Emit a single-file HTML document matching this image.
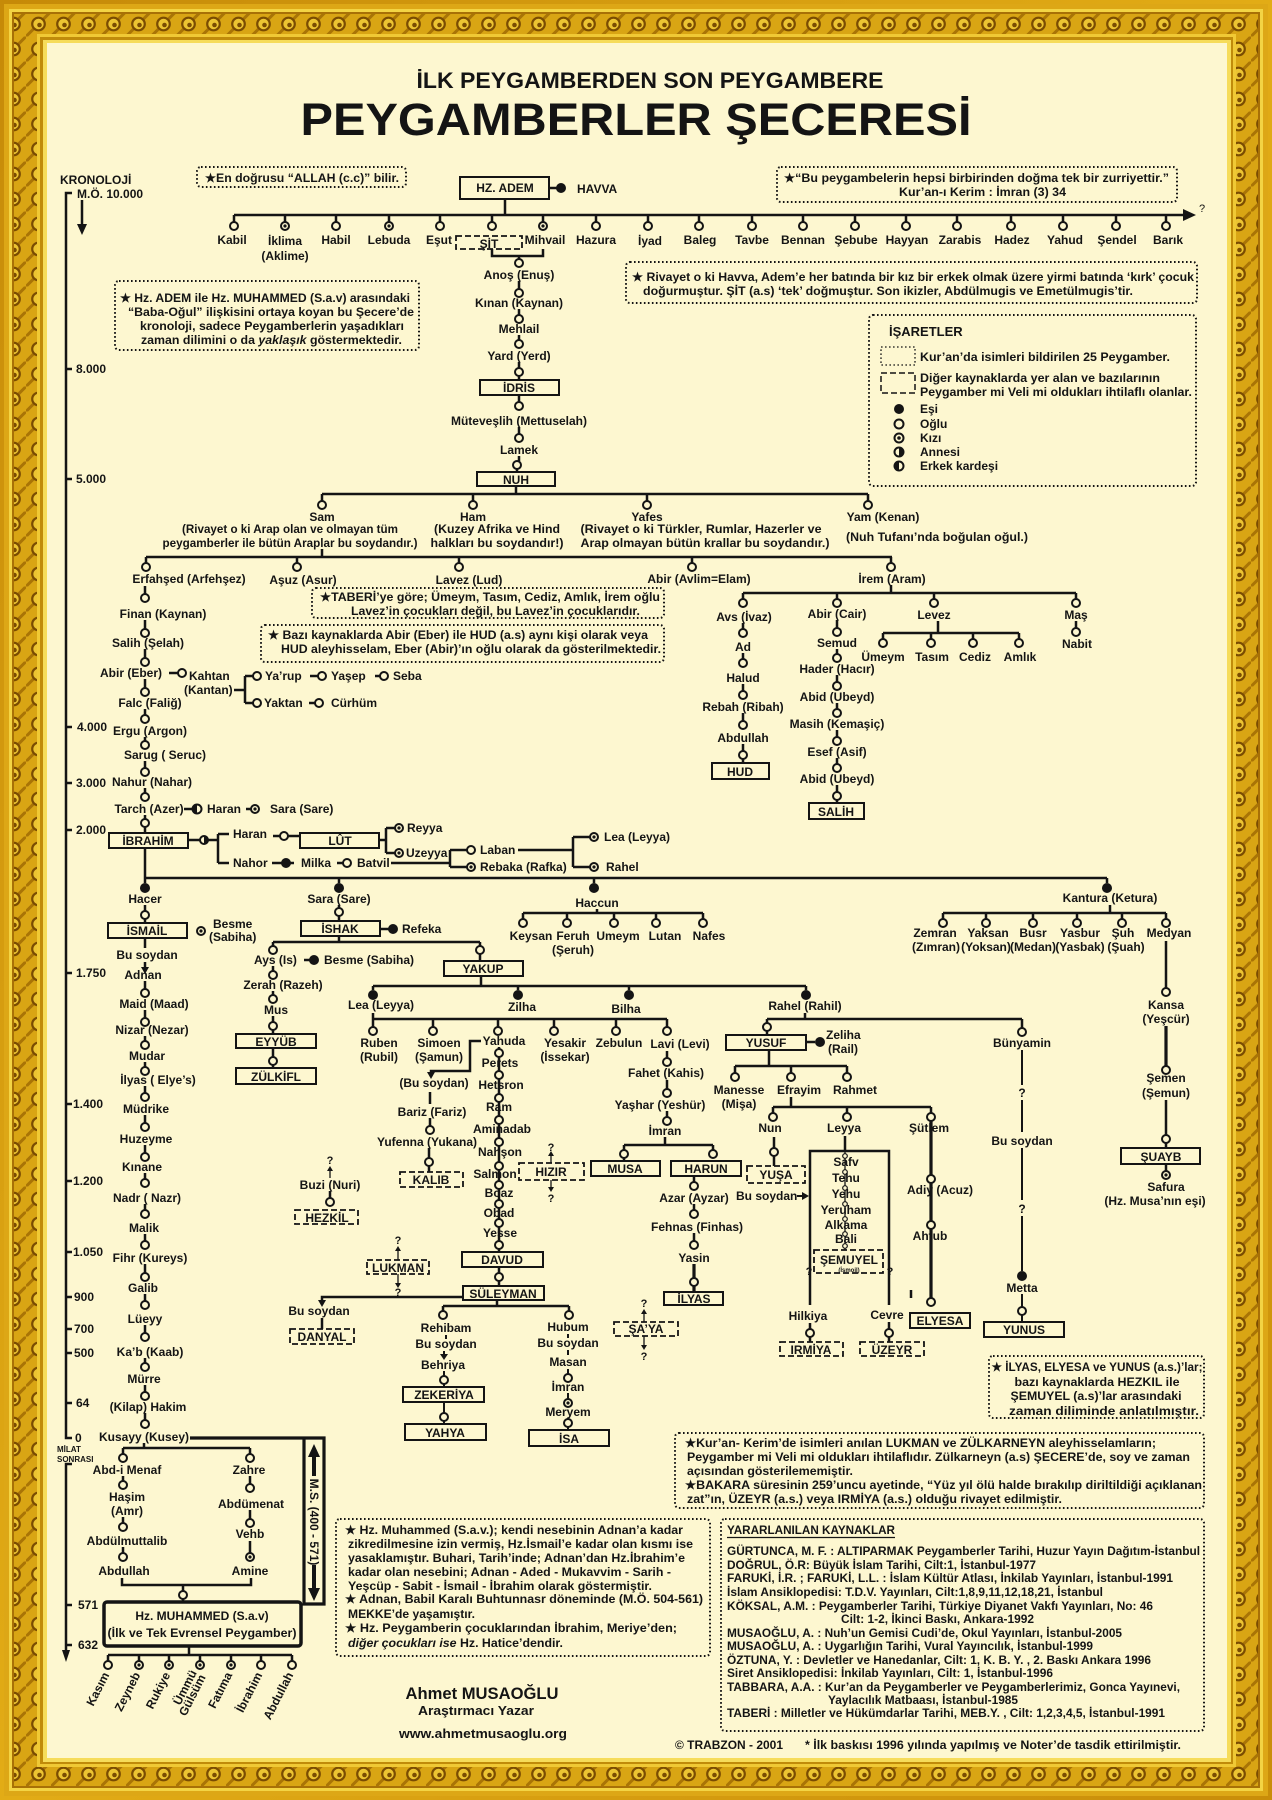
<!DOCTYPE html>
<html><head><meta charset="utf-8">
<style>
html,body{margin:0;padding:0;background:#fdf7d0}
svg{display:block}
text{font-family:"Liberation Sans",Arial,sans-serif;font-weight:bold;font-size:12px;fill:#141414}
.m{text-anchor:middle}
.e{text-anchor:end}
.s{font-size:11px}
.xs{font-size:8px}
.l{stroke:#141414;stroke-width:2.5;fill:none}
.lt{stroke:#141414;stroke-width:3.2;fill:none}
.th{stroke:#141414;stroke-width:1.3;fill:none}
.o{fill:#fdf7d0;stroke:#141414;stroke-width:2}
.f{fill:#141414}
.b{fill:#fdf7d0;stroke:#141414;stroke-width:2}
.d{fill:#fdf7d0;stroke:#141414;stroke-width:1.8;stroke-dasharray:6 3}
.n{fill:none;stroke:#141414;stroke-width:2;stroke-dasharray:1.6 2.4}
</style></head>
<body>
<svg width="1272" height="1800" viewBox="0 0 1272 1800" xmlns="http://www.w3.org/2000/svg">
<defs>
<linearGradient id="gO" x1="0" y1="0" x2="1" y2="1">
<stop offset="0" stop-color="#c68a08"/><stop offset="0.5" stop-color="#e2ac16"/><stop offset="1" stop-color="#c98d09"/>
</linearGradient>
<pattern id="orn" width="25" height="25" patternUnits="userSpaceOnUse" x="1" y="11.5">
<rect width="25" height="25" fill="#d9a514"/>
<path d="M-2 27 L27 -2" stroke="#a97406" stroke-width="3"/>
<circle cx="12.5" cy="12.5" r="6.3" fill="#ecc432" stroke="#7a4c02" stroke-width="2.2"/>
<circle cx="13.5" cy="13.5" r="2.3" fill="#7a4c02"/>
</pattern>
</defs>

<!-- FRAME -->
<rect x="0" y="0" width="1272" height="1800" fill="url(#gO)"/>
<rect x="4" y="4" width="1264" height="1792" fill="#dda716"/>
<rect x="9" y="9" width="1254" height="1782" fill="#f3d444"/>
<rect x="12" y="12" width="1248" height="1776" fill="#a87006"/>
<rect x="14" y="14" width="1244" height="1772" fill="url(#orn)"/>
<rect x="37" y="34" width="1199" height="1733" fill="#f0c935"/>
<rect x="40" y="37" width="1193" height="1727" fill="#c08b0a"/>
<rect x="43" y="40" width="1188" height="1722" fill="#f6dc5a"/>
<rect x="47" y="43" width="1180" height="1715" fill="#fdf7d0"/>

<!-- TITLE -->
<text x="650" y="88" class="m" style="font-size:22px" textLength="467" lengthAdjust="spacingAndGlyphs">İLK PEYGAMBERDEN SON PEYGAMBERE</text>
<text x="636" y="135" class="m" style="font-size:45px" textLength="671" lengthAdjust="spacingAndGlyphs">PEYGAMBERLER ŞECERESİ</text>

<!-- CHRONOLOGY -->
<text x="60" y="184">KRONOLOJİ</text>
<text x="77" y="198">M.Ö. 10.000</text>
<path class="l" d="M72 193H66V1438H72"/>
<path class="l" d="M82 200V226"/>
<polygon class="f" points="77,224 82,235 87,224"/>
<path class="l" d="M66 369H72 M66 479H72 M66 727H72 M66 783H72 M66 830H72 M66 973H72 M66 1104H72 M66 1181H72 M66 1252H72 M66 1297H72 M66 1329H72 M66 1353H72 M66 1403H72"/>
<text x="76" y="373">8.000</text>
<text x="76" y="483">5.000</text>
<text x="77" y="731">4.000</text>
<text x="76" y="787">3.000</text>
<text x="76" y="834">2.000</text>
<text x="76" y="977">1.750</text>
<text x="73" y="1108">1.400</text>
<text x="73" y="1185">1.200</text>
<text x="73" y="1256">1.050</text>
<text x="74" y="1301">900</text>
<text x="74" y="1333">700</text>
<text x="74" y="1357">500</text>
<text x="76" y="1407">64</text>
<text x="75" y="1442">0</text>
<text x="57" y="1452" class="xs">MİLAT</text>
<text x="57" y="1462" class="xs">SONRASI</text>
<path class="l" d="M72 1464H66V1652"/>
<polygon class="f" points="62,1650 66,1662 70,1650"/>
<path class="l" d="M66 1605H72 M66 1645H72"/>
<text x="78" y="1609">571</text>
<text x="78" y="1649">632</text>

<!-- TOP NOTES -->
<rect class="n" x="197" y="167" width="209" height="20" rx="4"/>
<text x="205" y="182" textLength="194" lengthAdjust="spacingAndGlyphs">★En doğrusu “ALLAH (c.c)” bilir.</text>

<rect class="n" x="777" y="167" width="400" height="35" rx="4"/>
<text x="784" y="182" textLength="385" lengthAdjust="spacingAndGlyphs">★“Bu peygambelerin hepsi birbirinden doğma tek bir zurriyettir.”</text>
<text x="899" y="196" textLength="167" lengthAdjust="spacingAndGlyphs">Kur’an-ı Kerim : İmran (3) 34</text>

<rect class="n" x="626" y="262" width="571" height="41" rx="4"/>
<text x="632" y="281" textLength="562" lengthAdjust="spacingAndGlyphs">★ Rivayet o ki Havva, Adem’e her batında bir kız bir erkek olmak üzere yirmi batında ‘kırk’ çocuk</text>
<text x="643" y="295" textLength="490" lengthAdjust="spacingAndGlyphs">doğurmuştur. ŞİT (a.s) ‘tek’ doğmuştur. Son ikizler, Abdülmugis ve Emetülmugis’tir.</text>

<rect class="n" x="115" y="281" width="304" height="69" rx="4"/>
<text x="120" y="302" textLength="290" lengthAdjust="spacingAndGlyphs">★ Hz. ADEM ile Hz. MUHAMMED (S.a.v) arasındaki</text>
<text x="128" y="316" textLength="286" lengthAdjust="spacingAndGlyphs">“Baba-Oğul” ilişkisini ortaya koyan bu Şecere’de</text>
<text x="140" y="330" textLength="264" lengthAdjust="spacingAndGlyphs">kronoloji, sadece Peygamberlerin yaşadıkları</text>
<text x="141" y="344" textLength="261" lengthAdjust="spacingAndGlyphs">zaman dilimini o da <tspan font-style="italic">yaklaşık</tspan> göstermektedir.</text>

<!-- LEGEND -->
<rect class="n" x="869" y="315" width="327" height="171" rx="4"/>
<text x="889" y="336" style="font-size:13px">İŞARETLER</text>
<rect class="n" x="881" y="347" width="34" height="18" style="stroke-width:1.3"/>
<text x="920" y="361" textLength="250" lengthAdjust="spacingAndGlyphs">Kur’an’da isimleri bildirilen 25 Peygamber.</text>
<rect class="d" x="881" y="373" width="34" height="20" style="stroke-width:1.5"/>
<text x="920" y="382" textLength="240" lengthAdjust="spacingAndGlyphs">Diğer kaynaklarda yer alan ve bazılarının</text>
<text x="920" y="396" textLength="272" lengthAdjust="spacingAndGlyphs">Peygamber mi Veli mi oldukları ihtilaflı olanlar.</text>
<circle class="f" cx="899" cy="409" r="5"/>
<circle class="o" cx="899" cy="424" r="4.5"/>
<circle class="o" cx="899" cy="438" r="4.5"/><circle class="f" cx="899" cy="438" r="1.8"/>
<circle class="o" cx="899" cy="452" r="4.5"/><path class="f" d="M899 447.5A4.5 4.5 0 0 1 899 456.5Z"/>
<circle class="o" cx="899" cy="466" r="4.5"/><path class="f" d="M899 461.5A4.5 4.5 0 0 0 899 470.5Z"/>
<text x="920" y="413">Eşi</text>
<text x="920" y="428">Oğlu</text>
<text x="920" y="442">Kızı</text>
<text x="920" y="456">Annesi</text>
<text x="920" y="470">Erkek kardeşi</text>

<!-- ADEM -->
<rect class="b" x="460" y="177" width="89" height="22"/>
<text x="505" y="192" class="m">HZ. ADEM</text>
<path class="l" d="M549 188H557"/>
<circle class="f" cx="561" cy="188" r="5"/>
<text x="577" y="193">HAVVA</text>
<path class="l" d="M505 199V215 M234 215H1185"/>
<polygon class="f" points="1183,209 1196,215 1183,221"/>
<text x="1199" y="212" class="s" style="font-weight:normal">?</text>
<path class="l" d="M234 215V222 M285 215V222 M336 215V222 M389 215V222 M440 215V222 M492 215V222 M543 215V222 M596 215V222 M648 215V222 M699 215V222 M752 215V222 M803 215V222 M855 215V222 M906 215V222 M957 215V222 M1011 215V222 M1063 215V222 M1116 215V222 M1166 215V222"/>
<g>
<circle class="o" cx="234" cy="226" r="4"/>
<circle class="o" cx="285" cy="226" r="4"/><circle class="f" cx="285" cy="226" r="1.6"/>
<circle class="o" cx="336" cy="226" r="4"/>
<circle class="o" cx="389" cy="226" r="4"/><circle class="f" cx="389" cy="226" r="1.6"/>
<circle class="o" cx="440" cy="226" r="4"/>
<circle class="o" cx="492" cy="226" r="4"/>
<circle class="o" cx="543" cy="226" r="4"/><circle class="f" cx="543" cy="226" r="1.6"/>
<circle class="o" cx="596" cy="226" r="4"/>
<circle class="o" cx="648" cy="226" r="4"/>
<circle class="o" cx="699" cy="226" r="4"/>
<circle class="o" cx="752" cy="226" r="4"/>
<circle class="o" cx="803" cy="226" r="4"/>
<circle class="o" cx="855" cy="226" r="4"/>
<circle class="o" cx="906" cy="226" r="4"/>
<circle class="o" cx="957" cy="226" r="4"/>
<circle class="o" cx="1011" cy="226" r="4"/>
<circle class="o" cx="1063" cy="226" r="4"/>
<circle class="o" cx="1116" cy="226" r="4"/>
<circle class="o" cx="1166" cy="226" r="4"/>
</g>
<text x="232" y="244" class="m">Kabil</text>
<text x="285" y="245" class="m">İklima</text><text x="285" y="260" class="m">(Aklime)</text>
<text x="336" y="244" class="m">Habil</text>
<text x="389" y="244" class="m">Lebuda</text>
<text x="439" y="244" class="m">Eşut</text>
<rect class="d" x="456" y="236" width="66" height="13"/>
<text x="489" y="248" class="m">ŞİT</text>
<text x="545" y="244" class="m">Mihvail</text>
<text x="596" y="244" class="m">Hazura</text>
<text x="650" y="245" class="m">İyad</text>
<text x="700" y="244" class="m">Baleg</text>
<text x="752" y="244" class="m">Tavbe</text>
<text x="803" y="244" class="m">Bennan</text>
<text x="856" y="244" class="m">Şebube</text>
<text x="907" y="244" class="m">Hayyan</text>
<text x="960" y="244" class="m">Zarabis</text>
<text x="1012" y="244" class="m">Hadez</text>
<text x="1065" y="244" class="m">Yahud</text>
<text x="1117" y="244" class="m">Şendel</text>
<text x="1168" y="244" class="m">Barık</text>

<!-- ŞİT LINE to NUH -->
<path class="l" d="M492 249V256H543V249 M519 256V259 M519 281V289 M519 309V315 M519 335V340 M519 362V368 M519 376V380 M519 395V402 M519 427V434 M519 456V461 M517 469V472 M516 486V494 M322 494H868 M322 494V501 M473 494V501 M647 494V501 M868 494V501"/>
<circle class="o" cx="519" cy="263" r="4"/>
<circle class="o" cx="519" cy="293" r="4"/>
<circle class="o" cx="519" cy="319" r="4"/>
<circle class="o" cx="519" cy="344" r="4"/>
<circle class="o" cx="519" cy="372" r="4"/>
<circle class="o" cx="519" cy="406" r="4"/>
<circle class="o" cx="519" cy="438" r="4"/>
<circle class="o" cx="517" cy="465" r="4"/>
<text x="519" y="279" class="m">Anoş (Enuş)</text>
<text x="519" y="307" class="m">Kınan (Kaynan)</text>
<text x="519" y="333" class="m">Mehlail</text>
<text x="519" y="360" class="m">Yard (Yerd)</text>
<rect class="b" x="480" y="380" width="79" height="15"/>
<text x="519" y="392" class="m">İDRİS</text>
<text x="519" y="425" class="m">Müteveşlih (Mettuselah)</text>
<text x="519" y="454" class="m">Lamek</text>
<rect class="b" x="477" y="472" width="78" height="14"/>
<text x="516" y="484" class="m">NUH</text>

<!-- NUH children -->
<circle class="o" cx="322" cy="505" r="4"/>
<circle class="o" cx="473" cy="505" r="4"/>
<circle class="o" cx="647" cy="505" r="4"/>
<circle class="o" cx="868" cy="505" r="4"/>
<text x="322" y="521" class="m">Sam</text>
<text x="290" y="533" class="m" textLength="216" lengthAdjust="spacingAndGlyphs">(Rivayet o ki Arap olan ve olmayan tüm</text>
<text x="290" y="547" class="m" textLength="255" lengthAdjust="spacingAndGlyphs">peygamberler ile bütün Araplar bu soydandır.)</text>
<text x="473" y="521" class="m">Ham</text>
<text x="497" y="533" class="m" textLength="126" lengthAdjust="spacingAndGlyphs">(Kuzey Afrika ve Hind</text>
<text x="497" y="547" class="m" textLength="133" lengthAdjust="spacingAndGlyphs">halkları bu soydandır!)</text>
<text x="647" y="521" class="m">Yafes</text>
<text x="701" y="533" class="m" textLength="241" lengthAdjust="spacingAndGlyphs">(Rivayet o ki Türkler, Rumlar, Hazerler ve</text>
<text x="705" y="547" class="m" textLength="249" lengthAdjust="spacingAndGlyphs">Arap olmayan bütün krallar bu soydandır.)</text>
<text x="883" y="521" class="m">Yam (Kenan)</text>
<text x="846" y="541" textLength="182" lengthAdjust="spacingAndGlyphs">(Nuh Tufanı’nda boğulan oğul.)</text>

<!-- SAM children -->
<path class="l" d="M322 549V557 M146 557H892 M146 557V563 M297 557V563 M459 557V563 M692 557V563 M891 557V563"/>
<circle class="o" cx="146" cy="567" r="4"/>
<circle class="o" cx="297" cy="567" r="4"/>
<circle class="o" cx="459" cy="567" r="4"/>
<circle class="o" cx="692" cy="567" r="4"/>
<circle class="o" cx="891" cy="567" r="4"/>
<text x="189" y="583" class="m">Erfahşed (Arfehşez)</text>
<text x="303" y="584" class="m">Aşuz (Asur)</text>
<text x="469" y="584" class="m">Lavez (Lud)</text>
<text x="699" y="583" class="m">Abir (Avlim=Elam)</text>
<text x="892" y="583" class="m">İrem (Aram)</text>

<rect class="n" x="312" y="588" width="352" height="30" rx="4"/>
<text x="320" y="601" textLength="340" lengthAdjust="spacingAndGlyphs">★TABERİ’ye göre; Ümeym, Tasım, Cediz, Amlık, İrem oğlu</text>
<text x="351" y="615" textLength="289" lengthAdjust="spacingAndGlyphs">Lavez’in çocukları değil, bu Lavez’in çocuklarıdır.</text>
<rect class="n" x="261" y="625" width="403" height="37" rx="4"/>
<text x="268" y="639" textLength="380" lengthAdjust="spacingAndGlyphs">★ Bazı kaynaklarda Abir (Eber) ile HUD (a.s) aynı kişi olarak veya</text>
<text x="281" y="653" textLength="380" lengthAdjust="spacingAndGlyphs">HUD aleyhisselam, Eber (Abir)’ın oğlu olarak da gösterilmektedir.</text>

<!-- ERFAHŞED chain -->
<path class="l" d="M145 586V594 M145 620V629 M145 649V658 M145 679V688 M145 709V715 M145 737V741 M145 761V768 M145 788V793 M145 815V819 M145 827V833"/>
<circle class="o" cx="145" cy="598" r="4"/>
<circle class="o" cx="145" cy="633" r="4"/>
<circle class="o" cx="145" cy="662" r="4"/>
<circle class="o" cx="145" cy="692" r="4"/>
<circle class="o" cx="145" cy="719" r="4"/>
<circle class="o" cx="145" cy="745" r="4"/>
<circle class="o" cx="145" cy="772" r="4"/>
<circle class="o" cx="145" cy="797" r="4"/>
<circle class="o" cx="145" cy="823" r="4"/>
<text x="163" y="618" class="m">Finan (Kaynan)</text>
<text x="148" y="647" class="m">Salih (Şelah)</text>
<text x="131" y="677" class="m">Abir (Eber)</text>
<text x="150" y="707" class="m">Falc (Faliğ)</text>
<text x="150" y="735" class="m">Ergu (Argon)</text>
<text x="165" y="759" class="m">Sarug ( Seruc)</text>
<text x="152" y="786" class="m">Nahur (Nahar)</text>
<text x="149" y="813" class="m">Tarch (Azer)</text>

<!-- Kahtan -->
<path class="l" d="M169 673H178 M234 690H245 M245 676V703 M245 676H253 M245 703H253 M310 676H318 M375 676H380 M309 703H315"/>
<circle class="o" cx="182" cy="673" r="4"/>
<circle class="o" cx="257" cy="676" r="4"/>
<circle class="o" cx="257" cy="703" r="4"/>
<circle class="o" cx="322" cy="676" r="4"/>
<circle class="o" cx="384" cy="676" r="4"/>
<circle class="o" cx="319" cy="703" r="4"/>
<text x="189" y="680">Kahtan</text>
<text x="184" y="694">(Kantan)</text>
<text x="265" y="680">Ya’rup</text>
<text x="331" y="680">Yaşep</text>
<text x="393" y="680">Seba</text>
<text x="264" y="707">Yaktan</text>
<text x="331" y="707">Cürhüm</text>

<!-- Tarch -->
<path class="l" d="M184 809H193 M246 809H251"/>
<circle class="o" cx="197" cy="809" r="4.5"/><path class="f" d="M197 804.5A4.5 4.5 0 0 0 197 813.5Z"/>
<circle class="o" cx="255" cy="809" r="4"/><circle class="f" cx="255" cy="809" r="1.6"/>
<text x="207" y="813">Haran</text>
<text x="270" y="813">Sara (Sare)</text>

<!-- İBRAHİM -->
<rect class="b" x="109" y="833" width="79" height="15"/>
<text x="148" y="845" class="m">İBRAHİM</text>
<path class="l" d="M188 840H200 M208 840H218 M218 834V863 M218 834H229 M218 863H229 M273 836H280 M288 836H300 M379 840H386 M386 828V853 M386 828H395 M386 853H395 M272 863H294 M337 863H343 M391 863H450 M450 850V867 M450 850H467 M450 867H467 M518 850H573 M573 837V867 M573 837H590 M573 867H590"/>
<circle class="o" cx="204" cy="840" r="4"/><path class="f" d="M204 836A4 4 0 0 1 204 844Z"/>
<circle class="o" cx="284" cy="836" r="4"/>
<rect class="b" x="300" y="833" width="79" height="15"/>
<text x="340" y="845" class="m">LÛT</text>
<circle class="o" cx="399" cy="828" r="4"/><circle class="f" cx="399" cy="828" r="1.6"/>
<circle class="o" cx="399" cy="853" r="4"/><circle class="f" cx="399" cy="853" r="1.6"/>
<circle class="f" cx="286" cy="863" r="5"/>
<circle class="o" cx="347" cy="863" r="4"/>
<circle class="o" cx="471" cy="850" r="4"/>
<circle class="o" cx="471" cy="867" r="4"/><circle class="f" cx="471" cy="867" r="1.6"/>
<circle class="o" cx="594" cy="837" r="4"/><circle class="f" cx="594" cy="837" r="1.6"/>
<circle class="o" cx="594" cy="867" r="4"/><circle class="f" cx="594" cy="867" r="1.6"/>
<text x="233" y="838">Haran</text>
<text x="233" y="867">Nahor</text>
<text x="301" y="867">Milka</text>
<text x="357" y="867">Batvil</text>
<text x="407" y="832">Reyya</text>
<text x="406" y="857">Uzeyya</text>
<text x="480" y="854">Laban</text>
<text x="480" y="871">Rebaka (Rafka)</text>
<text x="604" y="841">Lea (Leyya)</text>
<text x="606" y="871">Rahel</text>

<!-- İbrahim wives -->
<path class="l" d="M145 848V878 M145 878H1107 M145 878V883 M339 878V883 M594 878V883 M1107 878V883"/>
<circle class="f" cx="145" cy="888" r="5"/>
<circle class="f" cx="339" cy="888" r="5"/>
<circle class="f" cx="594" cy="888" r="5"/>
<circle class="f" cx="1107" cy="888" r="5"/>
<text x="145" y="903" class="m">Hacer</text>
<text x="339" y="903" class="m">Sara (Sare)</text>
<text x="597" y="907" class="m">Haccun</text>
<text x="1110" y="902" class="m">Kantura (Ketura)</text>

<!-- HACER / İSMAİL chain -->
<path class="l" d="M145 905V911 M145 919V923 M145 938V948 M145 962V968 M145 981V989 M145 1010V1018 M145 1036V1041 M145 1062V1067 M145 1086V1093 M145 1115V1123 M145 1145V1153 M145 1173V1179 M145 1204V1210 M145 1234V1241 M145 1264V1273 M145 1294V1301 M145 1325V1333 M145 1358V1363 M145 1385V1392 M145 1413V1420"/>
<polygon class="f" points="141,967 145,974 149,967"/>
<circle class="o" cx="145" cy="915" r="4"/>
<rect class="b" x="108" y="923" width="79" height="15"/>
<text x="147" y="935" class="m">İSMAİL</text>
<circle class="o" cx="201" cy="931" r="4"/><circle class="f" cx="201" cy="931" r="1.6"/>
<text x="213" y="928">Besme</text>
<text x="209" y="941">(Sabiha)</text>
<text x="147" y="959" class="m">Bu soydan</text>
<text x="143" y="979" class="m">Adnan</text>
<circle class="o" cx="145" cy="993" r="4"/>
<circle class="o" cx="145" cy="1022" r="4"/>
<circle class="o" cx="145" cy="1045" r="4"/>
<circle class="o" cx="145" cy="1071" r="4"/>
<circle class="o" cx="145" cy="1097" r="4"/>
<circle class="o" cx="145" cy="1127" r="4"/>
<circle class="o" cx="145" cy="1157" r="4"/>
<circle class="o" cx="145" cy="1183" r="4"/>
<circle class="o" cx="145" cy="1214" r="4"/>
<circle class="o" cx="145" cy="1245" r="4"/>
<circle class="o" cx="145" cy="1277" r="4"/>
<circle class="o" cx="145" cy="1305" r="4"/>
<circle class="o" cx="145" cy="1337" r="4"/>
<circle class="o" cx="145" cy="1367" r="4"/>
<circle class="o" cx="145" cy="1396" r="4"/>
<circle class="o" cx="145" cy="1424" r="4"/>
<text x="154" y="1008" class="m">Maid (Maad)</text>
<text x="152" y="1034" class="m">Nizar (Nezar)</text>
<text x="147" y="1060" class="m">Mudar</text>
<text x="158" y="1084" class="m">İlyas ( Elye’s)</text>
<text x="146" y="1113" class="m">Müdrike</text>
<text x="146" y="1143" class="m">Huzeyme</text>
<text x="142" y="1171" class="m">Kınane</text>
<text x="147" y="1202" class="m">Nadr ( Nazr)</text>
<text x="144" y="1232" class="m">Malik</text>
<text x="150" y="1262" class="m">Fihr (Kureys)</text>
<text x="143" y="1292" class="m">Galib</text>
<text x="145" y="1323" class="m">Lüeyy</text>
<text x="150" y="1356" class="m">Ka’b (Kaab)</text>
<text x="144" y="1383" class="m">Mürre</text>
<text x="148" y="1411" class="m">(Kilap) Hakim</text>
<text x="144" y="1441" class="m">Kusayy (Kusey)</text>

<!-- Kusayy -> Muhammed -->
<path class="lt" d="M190 1438H324V1604H304V1438"/>
<path class="lt" style="stroke-width:4" d="M314 1476V1454 M314 1565V1590"/>
<polygon class="f" points="308,1457 314,1444 320,1457"/>
<polygon class="f" points="308,1588 314,1601 320,1588"/>
<text transform="translate(314,1522) rotate(90)" x="0" y="4" class="m">M.S. (400 - 571)</text>
<path class="l" d="M144 1443V1448 M123 1448H250 M123 1448V1454 M250 1448V1454 M123 1476V1481 M123 1517V1523 M123 1547V1553 M250 1476V1484 M250 1510V1519 M250 1541V1553 M122 1578V1585H251V1578 M183 1585V1591 M183 1599V1602"/>
<circle class="o" cx="123" cy="1458" r="4"/>
<circle class="o" cx="250" cy="1458" r="4"/>
<circle class="o" cx="123" cy="1485" r="4"/>
<circle class="o" cx="123" cy="1527" r="4"/>
<circle class="o" cx="123" cy="1557" r="4"/>
<circle class="o" cx="250" cy="1488" r="4"/>
<circle class="o" cx="250" cy="1523" r="4"/>
<circle class="o" cx="250" cy="1557" r="4"/><circle class="f" cx="250" cy="1557" r="1.6"/>
<circle class="o" cx="183" cy="1595" r="4"/>
<text x="127" y="1474" class="m">Abd-i Menaf</text>
<text x="249" y="1474" class="m">Zahre</text>
<text x="127" y="1501" class="m">Haşim</text>
<text x="127" y="1515" class="m">(Amr)</text>
<text x="251" y="1508" class="m">Abdümenat</text>
<text x="250" y="1538" class="m">Vehb</text>
<text x="127" y="1545" class="m">Abdülmuttalib</text>
<text x="124" y="1575" class="m">Abdullah</text>
<text x="250" y="1575" class="m">Amine</text>
<rect x="104" y="1602" width="197" height="44" rx="3" fill="#fdf7d0" stroke="#141414" stroke-width="3.5"/>
<text x="202" y="1620" class="m">Hz. MUHAMMED (S.a.v)</text>
<text x="202" y="1637" class="m" textLength="189" lengthAdjust="spacingAndGlyphs">(İlk ve Tek Evrensel Peygamber)</text>
<path class="l" d="M189 1646V1655 M108 1655H292 M108 1655V1661 M139 1655V1661 M169 1655V1661 M200 1655V1661 M231 1655V1661 M261 1655V1661 M292 1655V1661"/>
<circle class="o" cx="108" cy="1665" r="4"/>
<circle class="o" cx="139" cy="1665" r="4"/><circle class="f" cx="139" cy="1665" r="1.6"/>
<circle class="o" cx="169" cy="1665" r="4"/><circle class="f" cx="169" cy="1665" r="1.6"/>
<circle class="o" cx="200" cy="1665" r="4"/><circle class="f" cx="200" cy="1665" r="1.6"/>
<circle class="o" cx="231" cy="1665" r="4"/><circle class="f" cx="231" cy="1665" r="1.6"/>
<circle class="o" cx="261" cy="1665" r="4"/>
<circle class="o" cx="292" cy="1665" r="4"/>
<g class="s">
<text transform="translate(106,1673) rotate(-63)" x="0" y="4" class="e">Kasım</text>
<text transform="translate(137,1673) rotate(-63)" x="0" y="4" class="e">Zeyneb</text>
<text transform="translate(167,1673) rotate(-63)" x="0" y="4" class="e">Rukiye</text>
<text transform="translate(198,1673) rotate(-63)" x="0" y="-1" class="e">Ümmü</text>
<text transform="translate(198,1673) rotate(-63)" x="0" y="9" class="e">Gülsüm</text>
<text transform="translate(229,1673) rotate(-63)" x="0" y="4" class="e">Fatıma</text>
<text transform="translate(259,1673) rotate(-63)" x="0" y="4" class="e">İbrahim</text>
<text transform="translate(290,1673) rotate(-63)" x="0" y="4" class="e">Abdullah</text>
</g>

<!-- SARA / İSHAK -->
<path class="l" d="M339 905V908 M339 916V921 M380 929H389 M339 936V942 M273 942H480 M273 942V946 M480 942V946 M304 960H310 M273 966V971 M273 991V995 M273 1016V1022 M273 1030V1034 M273 1048V1057 M273 1065V1068 M480 954V961"/>
<circle class="o" cx="339" cy="912" r="4"/>
<rect class="b" x="301" y="921" width="79" height="15"/>
<text x="340" y="933" class="m">İSHAK</text>
<circle class="f" cx="393" cy="929" r="5"/>
<text x="402" y="933">Refeka</text>
<circle class="o" cx="273" cy="950" r="4"/>
<circle class="o" cx="480" cy="950" r="4"/>
<text x="254" y="964">Ays (Is)</text>
<circle class="f" cx="314" cy="960" r="5"/>
<text x="324" y="964">Besme (Sabiha)</text>
<circle class="o" cx="273" cy="975" r="4"/>
<text x="283" y="989" class="m">Zerah (Razeh)</text>
<circle class="o" cx="273" cy="999" r="4"/>
<text x="276" y="1014" class="m">Mus</text>
<circle class="o" cx="273" cy="1026" r="4"/>
<rect class="b" x="236" y="1034" width="80" height="14"/>
<text x="276" y="1046" class="m">EYYÜB</text>
<circle class="o" cx="273" cy="1061" r="4"/>
<rect class="b" x="236" y="1068" width="80" height="16"/>
<text x="276" y="1081" class="m">ZÜLKİFL</text>

<!-- YAKUP -->
<rect class="b" x="444" y="961" width="79" height="15"/>
<text x="483" y="973" class="m">YAKUP</text>
<path class="l" d="M481 976V986 M373 986H806 M373 986V990 M518 986V990 M629 986V990 M806 986V990"/>
<circle class="f" cx="373" cy="995" r="5"/>
<circle class="f" cx="518" cy="995" r="5"/>
<circle class="f" cx="629" cy="995" r="5"/>
<circle class="f" cx="806" cy="995" r="5"/>
<text x="381" y="1009" class="m">Lea (Leyya)</text>
<text x="522" y="1011" class="m">Zilha</text>
<text x="626" y="1013" class="m">Bilha</text>
<text x="805" y="1010" class="m">Rahel (Rahil)</text>

<!-- Lea sons -->
<path class="l" d="M373 1013V1019 M373 1019H667 M373 1019V1027 M433 1019V1027 M498 1019V1027 M554 1019V1027 M616 1019V1027 M667 1019V1027"/>
<circle class="o" cx="373" cy="1031" r="4"/>
<circle class="o" cx="433" cy="1031" r="4"/>
<circle class="o" cx="498" cy="1031" r="4"/>
<circle class="o" cx="554" cy="1031" r="4"/>
<circle class="o" cx="616" cy="1031" r="4"/>
<circle class="o" cx="667" cy="1031" r="4"/>
<text x="379" y="1047" class="m">Ruben</text>
<text x="379" y="1061" class="m">(Rubil)</text>
<text x="439" y="1047" class="m">Simoen</text>
<text x="439" y="1061" class="m">(Şamun)</text>
<text x="504" y="1045" class="m">Yahuda</text>
<text x="565" y="1047" class="m">Yesakir</text>
<text x="565" y="1061" class="m">(İssekar)</text>
<text x="619" y="1047" class="m">Zebulun</text>
<text x="680" y="1048" class="m">Lavi (Levi)</text>

<!-- Yahuda branch -->
<path class="l" d="M481 1041H470V1071H431V1073 M430 1092V1104 M430 1118V1126 M429 1148V1158 M429 1166V1172"/>
<polygon class="f" points="427,1072 431,1079 435,1072"/>
<text x="434" y="1087" class="m">(Bu soydan)</text>
<text x="432" y="1116" class="m">Bariz (Fariz)</text>
<circle class="o" cx="430" cy="1130" r="4"/>
<text x="427" y="1146" class="m">Yufenna (Yukana)</text>
<circle class="o" cx="429" cy="1162" r="4"/>
<rect class="d" x="400" y="1172" width="63" height="15"/>
<text x="431" y="1184" class="m">KALIB</text>

<path class="l" d="M499 1047V1252 M499 1267V1286"/>
<circle class="o" cx="499" cy="1053" r="4"/>
<circle class="o" cx="499" cy="1075" r="4"/>
<circle class="o" cx="499" cy="1098" r="4"/>
<circle class="o" cx="499" cy="1120" r="4"/>
<circle class="o" cx="499" cy="1142" r="4"/>
<circle class="o" cx="499" cy="1166" r="4"/>
<circle class="o" cx="499" cy="1185" r="4"/>
<circle class="o" cx="499" cy="1204" r="4"/>
<circle class="o" cx="499" cy="1223" r="4"/>
<circle class="o" cx="499" cy="1245" r="4"/>
<circle class="o" cx="499" cy="1277" r="4"/>
<text x="500" y="1067" class="m">Perets</text>
<text x="501" y="1089" class="m">Hetsron</text>
<text x="499" y="1111" class="m">Ram</text>
<text x="502" y="1133" class="m">Aminadab</text>
<text x="500" y="1156" class="m">Nahşon</text>
<text x="495" y="1178" class="m">Salmon</text>
<text x="499" y="1197" class="m">Boaz</text>
<text x="499" y="1217" class="m">Obad</text>
<text x="500" y="1237" class="m">Yesse</text>
<rect class="b" x="462" y="1252" width="81" height="15"/>
<text x="502" y="1264" class="m">DAVUD</text>
<rect class="b" x="463" y="1286" width="81" height="14"/>
<text x="503" y="1298" class="m">SÜLEYMAN</text>

<!-- HIZIR -->
<rect class="d" x="519" y="1163" width="65" height="17"/>
<text x="551" y="1176" class="m">HIZIR</text>
<text x="551" y="1151" class="m s">?</text>
<text x="551" y="1202" class="m s">?</text>
<path class="th" d="M551 1163V1154 M551 1180V1189"/>
<polygon class="f" points="548,1156 551,1151 554,1156"/>
<polygon class="f" points="548,1187 551,1192 554,1187"/>

<!-- Buzi / HEZKİL -->
<text x="330" y="1164" class="m s">?</text>
<path class="th" d="M330 1178V1169"/>
<polygon class="f" points="327,1171 330,1166 333,1171"/>
<text x="330" y="1189" class="m">Buzi (Nuri)</text>
<path class="l" d="M330 1191V1198"/>
<circle class="o" cx="330" cy="1202" r="4"/>
<rect class="d" x="295" y="1210" width="63" height="14"/>
<text x="327" y="1222" class="m">HEZKİL</text>

<!-- LUKMAN -->
<rect class="d" x="367" y="1260" width="62" height="14"/>
<text x="398" y="1272" class="m">LUKMAN</text>
<text x="398" y="1244" class="m s">?</text>
<text x="398" y="1296" class="m s">?</text>
<path class="th" d="M398 1260V1249 M398 1274V1285"/>
<polygon class="f" points="395,1251 398,1246 401,1251"/>
<polygon class="f" points="395,1283 398,1288 401,1283"/>

<!-- Süleyman descendants -->
<path class="l" d="M463 1297H322V1301 M322 1318V1329 M497 1300V1306 M443 1306H569 M443 1306V1311 M569 1306V1311"/>
<polygon class="f" points="318,1300 322,1307 326,1300"/>
<text x="319" y="1315" class="m">Bu soydan</text>
<rect class="d" x="290" y="1329" width="64" height="15"/>
<text x="322" y="1341" class="m">DANYAL</text>
<circle class="o" cx="443" cy="1315" r="4"/>
<circle class="o" cx="569" cy="1315" r="4"/>
<text x="446" y="1332" class="m">Rehibam</text>
<text x="446" y="1348" class="m">Bu soydan</text>
<path class="l" style="stroke-width:2" d="M446 1335V1339 M444 1351V1355 M444 1371V1376 M444 1384V1387 M444 1402V1413 M444 1421V1424 M568 1334V1338 M568 1350V1355 M568 1369V1374 M568 1393V1399 M568 1418V1419 M568 1427V1430"/>
<polygon class="f" points="440,1354 444,1360 448,1354"/>
<text x="443" y="1369" class="m">Behriya</text>
<circle class="o" cx="444" cy="1380" r="4"/>
<rect class="b" x="403" y="1387" width="81" height="15"/>
<text x="444" y="1399" class="m">ZEKERİYA</text>
<circle class="o" cx="444" cy="1417" r="4"/>
<rect class="b" x="405" y="1424" width="81" height="16"/>
<text x="445" y="1437" class="m">YAHYA</text>
<text x="568" y="1331" class="m">Hubum</text>
<text x="568" y="1347" class="m">Bu soydan</text>
<text x="568" y="1366" class="m">Masan</text>
<circle class="o" cx="568" cy="1378" r="4"/>
<text x="568" y="1391" class="m">İmran</text>
<circle class="o" cx="568" cy="1403" r="4"/><circle class="f" cx="568" cy="1403" r="1.6"/>
<text x="568" y="1416" class="m">Meryem</text>
<circle class="o" cx="568" cy="1423" r="4"/>
<rect class="b" x="529" y="1430" width="80" height="16"/>
<text x="569" y="1443" class="m">İSA</text>

<!-- Haccun -->
<path class="l" d="M597 909V913 M523 913H703 M523 913V919 M567 913V919 M614 913V919 M656 913V919 M703 913V919"/>
<circle class="o" cx="523" cy="923" r="4"/>
<circle class="o" cx="567" cy="923" r="4"/>
<circle class="o" cx="614" cy="923" r="4"/>
<circle class="o" cx="656" cy="923" r="4"/>
<circle class="o" cx="703" cy="923" r="4"/>
<text x="531" y="940" class="m">Keysan</text>
<text x="573" y="940" class="m">Feruh</text>
<text x="573" y="954" class="m">(Şeruh)</text>
<text x="618" y="940" class="m">Umeym</text>
<text x="665" y="940" class="m">Lutan</text>
<text x="709" y="940" class="m">Nafes</text>

<!-- Lavi chain -->
<path class="l" d="M667 1051V1058 M667 1080V1089 M667 1111V1117 M665 1137V1145 M624 1145H713 M624 1145V1150 M713 1145V1150 M624 1158V1161 M694 1176V1182 M694 1204V1210 M694 1233V1241"/>
<path class="lt" d="M694 1264V1278 M694 1286V1292"/>
<circle class="o" cx="667" cy="1062" r="4"/>
<text x="666" y="1077" class="m">Fahet (Kahis)</text>
<circle class="o" cx="667" cy="1093" r="4"/>
<text x="660" y="1109" class="m">Yaşhar (Yeshür)</text>
<circle class="o" cx="667" cy="1121" r="4"/>
<text x="665" y="1135" class="m">İmran</text>
<circle class="o" cx="624" cy="1154" r="4"/>
<circle class="o" cx="713" cy="1154" r="4"/>
<rect class="b" x="591" y="1161" width="69" height="15"/>
<text x="625" y="1173" class="m">MUSA</text>
<rect class="b" x="671" y="1161" width="70" height="15"/>
<text x="706" y="1173" class="m">HARUN</text>
<circle class="o" cx="694" cy="1186" r="4"/>
<text x="694" y="1202" class="m">Azar (Ayzar)</text>
<circle class="o" cx="694" cy="1214" r="4"/>
<text x="697" y="1231" class="m">Fehnas (Finhas)</text>
<circle class="o" cx="694" cy="1245" r="4"/>
<text x="694" y="1262" class="m">Yasin</text>
<circle class="o" cx="694" cy="1282" r="4"/>
<rect class="b" x="664" y="1292" width="59" height="13"/>
<text x="694" y="1303" class="m">İLYAS</text>

<!-- ŞA'YA -->
<rect class="d" x="614" y="1322" width="64" height="14"/>
<text x="646" y="1333" class="m">ŞA’YA</text>
<text x="644" y="1307" class="m s">?</text>
<text x="644" y="1360" class="m s">?</text>
<path class="th" d="M644 1322V1312 M644 1336V1347"/>
<polygon class="f" points="641,1314 644,1309 647,1314"/>
<polygon class="f" points="641,1345 644,1350 647,1345"/>

<!-- Rahel / YUSUF -->
<path class="l" d="M805 1013V1019 M767 1019H1022 M767 1019V1023 M1022 1019V1028 M767 1031V1035 M806 1042H815"/>
<circle class="o" cx="767" cy="1027" r="4"/>
<circle class="o" cx="1022" cy="1032" r="4"/>
<rect class="b" x="726" y="1035" width="80" height="15"/>
<text x="766" y="1047" class="m">YUSUF</text>
<circle class="f" cx="820" cy="1042" r="5"/>
<text x="826" y="1039">Zeliha</text>
<text x="828" y="1053">(Rail)</text>
<text x="1022" y="1047" class="m">Bünyamin</text>
<path class="l" style="stroke-width:2" d="M1022 1050V1085 M1022 1100V1132 M1022 1148V1200 M1022 1216V1271 M1022 1294V1307 M1022 1315V1322"/>
<text x="1022" y="1097" class="m">?</text>
<text x="1022" y="1145" class="m">Bu soydan</text>
<text x="1022" y="1213" class="m">?</text>
<circle class="f" cx="1022" cy="1276" r="5"/>
<text x="1022" y="1292" class="m">Metta</text>
<circle class="o" cx="1022" cy="1311" r="4"/>
<rect class="b" x="984" y="1322" width="80" height="15"/>
<text x="1024" y="1334" class="m">YUNUS</text>

<path class="l" d="M769 1050V1066 M735 1066H847 M735 1066V1073 M791 1066V1073 M847 1066V1073 M791 1097V1107 M773 1107H931 M773 1107V1113 M847 1107V1113 M931 1107V1113 M774 1137V1148 M774 1156V1166"/>
<circle class="o" cx="735" cy="1077" r="4"/>
<circle class="o" cx="791" cy="1077" r="4"/>
<circle class="o" cx="847" cy="1077" r="4"/>
<text x="739" y="1094" class="m">Manesse</text>
<text x="739" y="1108" class="m">(Mişa)</text>
<text x="799" y="1094" class="m">Efrayim</text>
<text x="855" y="1094" class="m">Rahmet</text>
<circle class="o" cx="773" cy="1117" r="4"/>
<circle class="o" cx="847" cy="1117" r="4"/>
<circle class="o" cx="931" cy="1117" r="4"/>
<text x="770" y="1132" class="m">Nun</text>
<text x="844" y="1132" class="m">Leyya</text>
<text x="929" y="1132" class="m">Şütlem</text>
<circle class="o" cx="774" cy="1152" r="4"/>
<rect class="d" x="747" y="1166" width="58" height="17"/>
<text x="776" y="1179" class="m">YUŞA</text>
<text x="736" y="1200">Bu soydan</text>
<path class="l" style="stroke-width:2" d="M797 1196H803"/>
<polygon class="f" points="802,1192 809,1196 802,1200"/>

<!-- Leyya box -->
<path class="l" d="M845 1136V1151 M810 1305V1151H889V1305"/>
<path class="th" d="M845 1151V1250"/>
<circle class="o" cx="845" cy="1156" r="2.3" style="stroke-width:1.2"/>
<circle class="o" cx="845" cy="1172" r="2.3" style="stroke-width:1.2"/>
<circle class="o" cx="845" cy="1188" r="2.3" style="stroke-width:1.2"/>
<circle class="o" cx="845" cy="1204" r="2.3" style="stroke-width:1.2"/>
<circle class="o" cx="845" cy="1219" r="2.3" style="stroke-width:1.2"/>
<circle class="o" cx="845" cy="1234" r="2.3" style="stroke-width:1.2"/>
<circle class="o" cx="845" cy="1246" r="2.3" style="stroke-width:1.2"/>
<g class="xs">
<text x="846" y="1166" class="m">Safv</text>
<text x="846" y="1182" class="m">Tehu</text>
<text x="846" y="1198" class="m">Yehu</text>
<text x="846" y="1214" class="m">Yeruham</text>
<text x="846" y="1229" class="m">Alkama</text>
<text x="846" y="1243" class="m">Bali</text>
</g>
<rect class="d" x="814" y="1250" width="69" height="23"/>
<text x="849" y="1264" class="m">ŞEMUYEL</text>
<text x="849" y="1272" class="m" style="font-size:6px">(İsmoil)</text>
<text x="809" y="1275" class="m s">?</text>
<text x="890" y="1275" class="m s">?</text>
<text x="808" y="1320" class="m">Hilkiya</text>
<text x="887" y="1319" class="m">Cevre</text>
<path class="l" d="M810 1323V1329 M810 1337V1342 M889 1322V1329 M889 1337V1342"/>
<circle class="o" cx="810" cy="1333" r="4"/>
<circle class="o" cx="889" cy="1333" r="4"/>
<rect class="d" x="780" y="1342" width="63" height="14"/>
<text x="811" y="1354" class="m">IRMİYA</text>
<rect class="d" x="860" y="1342" width="64" height="14"/>
<text x="892" y="1354" class="m">ÜZEYR</text>

<!-- Şütlem -->
<path class="lt" d="M931 1121V1298"/>
<circle class="o" cx="931" cy="1179" r="4"/>
<text x="940" y="1194" class="m">Adiy (Acuz)</text>
<circle class="o" cx="931" cy="1225" r="4"/>
<text x="930" y="1240" class="m">Ahtub</text>
<circle class="o" cx="931" cy="1302" r="4"/>
<path class="l" d="M911 1290V1298"/>
<rect class="b" x="910" y="1313" width="60" height="15"/>
<text x="940" y="1325" class="m">ELYESA</text>

<!-- Kantura -->
<path class="l" d="M1110 905V913 M943 913H1166 M943 913V919 M986 913V919 M1033 913V919 M1077 913V919 M1122 913V919 M1166 913V919 M1166 941V988 M1166 1100V1135 M1166 1143V1148 M1166 1164V1171"/>
<path class="lt" d="M1166 1026V1066"/>
<circle class="o" cx="943" cy="923" r="4"/>
<circle class="o" cx="986" cy="923" r="4"/>
<circle class="o" cx="1033" cy="923" r="4"/>
<circle class="o" cx="1077" cy="923" r="4"/>
<circle class="o" cx="1122" cy="923" r="4"/>
<circle class="o" cx="1166" cy="923" r="4"/>
<text x="935" y="937" class="m">Zemran</text>
<text x="988" y="937" class="m">Yaksan</text>
<text x="1033" y="937" class="m">Busr</text>
<text x="1080" y="937" class="m">Yasbur</text>
<text x="1123" y="937" class="m">Şuh</text>
<text x="1169" y="937" class="m">Medyan</text>
<text x="936" y="951" class="m">(Zımran)</text>
<text x="986" y="951" class="m">(Yoksan)</text>
<text x="1033" y="951" class="m">(Medan)</text>
<text x="1080" y="951" class="m">(Yasbak)</text>
<text x="1126" y="951" class="m">(Şuah)</text>
<circle class="o" cx="1166" cy="992" r="4"/>
<text x="1166" y="1009" class="m">Kansa</text>
<text x="1166" y="1023" class="m">(Yeşcür)</text>
<circle class="o" cx="1166" cy="1070" r="4"/>
<text x="1166" y="1082" class="m">Şemen</text>
<text x="1166" y="1097" class="m">(Şemun)</text>
<circle class="o" cx="1166" cy="1139" r="4"/>
<rect class="b" x="1121" y="1148" width="79" height="16"/>
<text x="1161" y="1161" class="m">ŞUAYB</text>
<circle class="o" cx="1166" cy="1175" r="4"/><circle class="f" cx="1166" cy="1175" r="1.6"/>
<text x="1166" y="1191" class="m">Safura</text>
<text x="1155" y="1205" class="m">(Hz. Musa’nın eşi)</text>

<!-- İREM -->
<path class="l" d="M891 585V593 M743 593H1076 M743 593V599 M837 593V599 M934 593V599 M1076 593V599 M743 623V629 M743 653V659 M743 684V691 M743 713V721 M743 744V751 M743 759V763 M837 620V628 M837 649V654 M837 675V682 M837 703V709 M837 730V737 M837 758V764 M837 785V792 M837 800V803 M938 621V633 M883 633H1019 M883 633V639 M931 633V639 M973 633V639 M1019 633V639 M1076 621V628"/>
<circle class="o" cx="743" cy="603" r="4"/>
<circle class="o" cx="837" cy="603" r="4"/>
<circle class="o" cx="934" cy="603" r="4"/>
<circle class="o" cx="1076" cy="603" r="4"/>
<text x="744" y="621" class="m">Avs (İvaz)</text>
<text x="837" y="618" class="m">Abir (Cair)</text>
<text x="934" y="619" class="m">Levez</text>
<text x="1076" y="619" class="m">Maş</text>
<circle class="o" cx="743" cy="633" r="4"/>
<text x="743" y="651" class="m">Ad</text>
<circle class="o" cx="743" cy="663" r="4"/>
<text x="743" y="682" class="m">Halud</text>
<circle class="o" cx="743" cy="695" r="4"/>
<text x="743" y="711" class="m">Rebah (Ribah)</text>
<circle class="o" cx="743" cy="725" r="4"/>
<text x="743" y="742" class="m">Abdullah</text>
<circle class="o" cx="743" cy="755" r="4"/>
<rect class="b" x="712" y="763" width="57" height="16"/>
<text x="740" y="776" class="m">HUD</text>
<circle class="o" cx="837" cy="632" r="4"/>
<text x="837" y="647" class="m">Semud</text>
<circle class="o" cx="837" cy="658" r="4"/>
<text x="837" y="673" class="m">Hader (Hacır)</text>
<circle class="o" cx="837" cy="686" r="4"/>
<text x="837" y="701" class="m">Abid (Ubeyd)</text>
<circle class="o" cx="837" cy="713" r="4"/>
<text x="837" y="728" class="m">Masih (Kemaşiç)</text>
<circle class="o" cx="837" cy="741" r="4"/>
<text x="837" y="756" class="m">Esef (Asif)</text>
<circle class="o" cx="837" cy="768" r="4"/>
<text x="837" y="783" class="m">Abid (Ubeyd)</text>
<circle class="o" cx="837" cy="796" r="4"/>
<rect class="b" x="809" y="803" width="55" height="16"/>
<text x="836" y="816" class="m">SALİH</text>
<circle class="o" cx="883" cy="643" r="4"/>
<circle class="o" cx="931" cy="643" r="4"/>
<circle class="o" cx="973" cy="643" r="4"/>
<circle class="o" cx="1019" cy="643" r="4"/>
<text x="883" y="661" class="m">Ümeym</text>
<text x="932" y="661" class="m">Tasım</text>
<text x="975" y="661" class="m">Cediz</text>
<text x="1020" y="661" class="m">Amlık</text>
<circle class="o" cx="1076" cy="632" r="4"/>
<text x="1077" y="648" class="m">Nabit</text>

<!-- BOTTOM NOTES -->
<rect class="n" x="989" y="1356" width="215" height="62" rx="4"/>
<text x="1097" y="1371" class="m" textLength="211" lengthAdjust="spacingAndGlyphs">★ İLYAS, ELYESA ve YUNUS (a.s.)’lar;</text>
<text x="1097" y="1386" class="m" textLength="165" lengthAdjust="spacingAndGlyphs">bazı kaynaklarda HEZKIL ile</text>
<text x="1096" y="1400" class="m" textLength="171" lengthAdjust="spacingAndGlyphs">ŞEMUYEL (a.s)’lar arasındaki</text>
<text x="1104" y="1415" class="m" textLength="190" lengthAdjust="spacingAndGlyphs">zaman diliminde anlatılmıştır.</text>

<rect class="n" x="675" y="1433" width="529" height="75" rx="4"/>
<text x="685" y="1447" textLength="471" lengthAdjust="spacingAndGlyphs">★Kur’an- Kerim’de isimleri anılan LUKMAN ve ZÜLKARNEYN aleyhisselamların;</text>
<text x="687" y="1461" textLength="503" lengthAdjust="spacingAndGlyphs">Peygamber mi Veli mi oldukları ihtilaflıdır. Zülkarneyn (a.s) ŞECERE’de, soy ve zaman</text>
<text x="687" y="1475" textLength="166" lengthAdjust="spacingAndGlyphs">açısından gösterilememiştir.</text>
<text x="685" y="1489" textLength="517" lengthAdjust="spacingAndGlyphs">★BAKARA süresinin 259’uncu ayetinde, “Yüz yıl ölü halde bırakılıp diriltildiği açıklanan</text>
<text x="687" y="1503" textLength="375" lengthAdjust="spacingAndGlyphs">zat”ın, ÜZEYR (a.s.) veya IRMİYA (a.s.) olduğu rivayet edilmiştir.</text>

<rect class="n" x="336" y="1519" width="374" height="137" rx="4"/>
<text x="345" y="1534" textLength="338" lengthAdjust="spacingAndGlyphs">★ Hz. Muhammed (S.a.v.); kendi nesebinin Adnan’a kadar</text>
<text x="348" y="1548" textLength="345" lengthAdjust="spacingAndGlyphs">zikredilmesine izin vermiş, Hz.İsmail’e kadar olan kısmı ise</text>
<text x="348" y="1562" textLength="337" lengthAdjust="spacingAndGlyphs">yasaklamıştır. Buhari, Tarih’inde; Adnan’dan Hz.İbrahim’e</text>
<text x="348" y="1576" textLength="323" lengthAdjust="spacingAndGlyphs">kadar olan nesebini; Adnan - Aded - Mukavvim - Sarih -</text>
<text x="348" y="1590" textLength="304" lengthAdjust="spacingAndGlyphs">Yeşcüp - Sabit - İsmail - İbrahim olarak göstermiştir.</text>
<text x="345" y="1603" textLength="358" lengthAdjust="spacingAndGlyphs">★ Adnan, Babil Karalı Buhtunnasr döneminde (M.Ö. 504-561)</text>
<text x="348" y="1618" textLength="127" lengthAdjust="spacingAndGlyphs">MEKKE’de yaşamıştır.</text>
<text x="345" y="1632" textLength="332" lengthAdjust="spacingAndGlyphs">★ Hz. Peygamberin çocuklarından İbrahim, Meriye’den;</text>
<text x="348" y="1647" textLength="215" lengthAdjust="spacingAndGlyphs"><tspan font-style="italic">diğer çocukları ise</tspan> Hz. Hatice’dendir.</text>

<rect class="n" x="721" y="1519" width="483" height="212" rx="4"/>
<text x="727" y="1534" textLength="168" lengthAdjust="spacingAndGlyphs">YARARLANILAN KAYNAKLAR</text>
<path d="M727 1537.5H895" stroke="#141414" stroke-width="1.3"/>
<g class="s">
<text x="727" y="1555" textLength="473" lengthAdjust="spacingAndGlyphs">GÜRTUNCA, M. F. : ALTIPARMAK Peygamberler Tarihi, Huzur Yayın Dağıtım-İstanbul</text>
<text x="727" y="1569" textLength="309" lengthAdjust="spacingAndGlyphs">DOĞRUL, Ö.R: Büyük İslam Tarihi, Cilt:1, İstanbul-1977</text>
<text x="727" y="1582" textLength="446" lengthAdjust="spacingAndGlyphs">FARUKİ, İ.R. ; FARUKİ, L.L. : İslam Kültür Atlası, İnkilab Yayınları, İstanbul-1991</text>
<text x="727" y="1596" textLength="376" lengthAdjust="spacingAndGlyphs">İslam Ansiklopedisi: T.D.V. Yayınları, Cilt:1,8,9,11,12,18,21, İstanbul</text>
<text x="727" y="1610" textLength="426" lengthAdjust="spacingAndGlyphs">KÖKSAL, A.M. : Peygamberler Tarihi, Türkiye Diyanet Vakfı Yayınları, No: 46</text>
<text x="841" y="1623" textLength="193" lengthAdjust="spacingAndGlyphs">Cilt: 1-2, İkinci Baskı, Ankara-1992</text>
<text x="727" y="1637" textLength="395" lengthAdjust="spacingAndGlyphs">MUSAOĞLU, A. : Nuh’un Gemisi Cudi’de, Okul Yayınları, İstanbul-2005</text>
<text x="727" y="1650" textLength="366" lengthAdjust="spacingAndGlyphs">MUSAOĞLU, A. : Uygarlığın Tarihi, Vural Yayıncılık, İstanbul-1999</text>
<text x="727" y="1664" textLength="424" lengthAdjust="spacingAndGlyphs">ÖZTUNA, Y. : Devletler ve Hanedanlar, Cilt: 1, K. B. Y. , 2. Baskı Ankara 1996</text>
<text x="727" y="1677" textLength="326" lengthAdjust="spacingAndGlyphs">Siret Ansiklopedisi: İnkilab Yayınları, Cilt: 1, İstanbul-1996</text>
<text x="727" y="1691" textLength="453" lengthAdjust="spacingAndGlyphs">TABBARA, A.A. : Kur’an da Peygamberler ve Peygamberlerimiz, Gonca Yayınevi,</text>
<text x="828" y="1704" textLength="190" lengthAdjust="spacingAndGlyphs">Yaylacılık Matbaası, İstanbul-1985</text>
<text x="727" y="1717" textLength="438" lengthAdjust="spacingAndGlyphs">TABERİ : Milletler ve Hükümdarlar Tarihi, MEB.Y. , Cilt: 1,2,3,4,5, İstanbul-1991</text>
</g>

<text x="482" y="1699" class="m" style="font-size:17px" textLength="153" lengthAdjust="spacingAndGlyphs">Ahmet MUSAOĞLU</text>
<text x="476" y="1715" class="m" style="font-size:13px" textLength="116" lengthAdjust="spacingAndGlyphs">Araştırmacı Yazar</text>
<text x="483" y="1738" class="m" style="font-size:13px" textLength="168" lengthAdjust="spacingAndGlyphs">www.ahmetmusaoglu.org</text>
<text x="675" y="1749" textLength="108" lengthAdjust="spacingAndGlyphs">© TRABZON - 2001</text>
<text x="805" y="1749" textLength="376" lengthAdjust="spacingAndGlyphs">* İlk baskısı 1996 yılında yapılmış ve Noter’de tasdik ettirilmiştir.</text>
</svg>
</body></html>
